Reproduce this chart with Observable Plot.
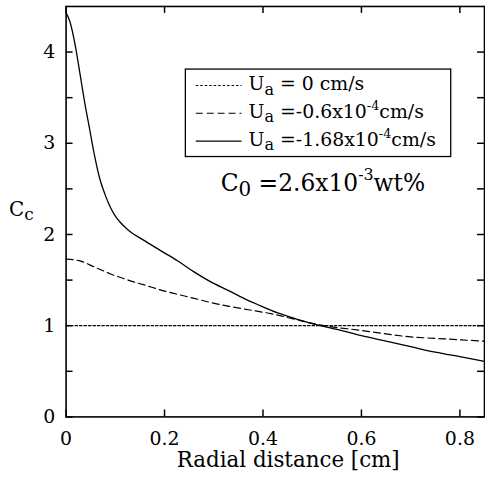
<!DOCTYPE html>
<html>
<head>
<meta charset="utf-8">
<script src="https://cdn.jsdelivr.net/npm/d3@7"></script>
<script src="https://cdn.jsdelivr.net/npm/@observablehq/plot@0.6"></script>
<style>
  html, body { margin: 0; padding: 0; background: white; overflow: hidden; }
  #chart { position: relative; width: 485px; height: 486px; overflow: hidden; }
</style>
</head>
<body>
<div id="chart"></div>
<script>
// ---- data ----
const xDot = [0, 0.85];
const yDot = [1, 1];

const xDash = [0, 0.028, 0.059, 0.089, 0.126, 0.163, 0.193, 0.226, 0.26, 0.297, 0.334, 0.37, 0.418, 0.465, 0.513, 0.6, 0.695, 0.77, 0.85];
const yDash = [1.73, 1.71, 1.64, 1.57, 1.50, 1.44, 1.39, 1.345, 1.30, 1.25, 1.21, 1.175, 1.13, 1.07, 1.01, 0.948, 0.88, 0.855, 0.83];

const xSolid = [0, 0.008, 0.018, 0.028, 0.038, 0.048, 0.058, 0.069, 0.079, 0.089, 0.099, 0.109, 0.126, 0.16, 0.193, 0.227, 0.26, 0.294, 0.328, 0.361, 0.39, 0.43, 0.47, 0.51, 0.55, 0.6, 0.65, 0.7, 0.75, 0.8, 0.85];
const ySolid = [4.43, 4.33, 4.09, 3.77, 3.44, 3.15, 2.86, 2.60, 2.44, 2.31, 2.21, 2.14, 2.05, 1.93, 1.82, 1.71, 1.59, 1.48, 1.39, 1.30, 1.23, 1.14, 1.07, 1.01, 0.96, 0.89, 0.83, 0.77, 0.71, 0.66, 0.61];

// legend labels: [text, kind] parts (kind: "" | "sub" | "sup")
const seriesLabels = [
  [["U", ""], ["a", "sub"], [" = 0 cm/s", ""]],
  [["U", ""], ["a", "sub"], [" =-0.6x10", ""], ["-4", "sup"], ["cm/s", ""]],
  [["U", ""], ["a", "sub"], [" =-1.68x10", ""], ["-4", "sup"], ["cm/s", ""]]
];
const noteLabel = [["C", ""], ["0", "sub"], [" =2.6x10", ""], ["-3", "sup"], ["wt%", ""]];
const yTitle = [["C", ""], ["c", "sub"]];
const xTitle = "Radial distance [cm]";

const xTicks = [0, 0.2, 0.4, 0.6, 0.8];
const yTicks = [0, 0.5, 1, 1.5, 2, 2.5, 3, 3.5, 4];

// ---- styles ----
const dashes = ["2.5,2", "7,4", null];
const FONT = "DejaVu Serif";
const W = 488, H = 486, ML = 66, MR = 1, MT = 6, MB = 67, TICK = 7;
const plotW = W - ML - MR, plotH = H - MT - MB;

const toRows = (xs, ys) => xs.map((x, i) => ({x, y: ys[i]}));
const seriesRows = [toRows(xDot, yDot), toRows(xDash, yDash), toRows(xSolid, ySolid)];
const tickStyle = {stroke: "black", strokeWidth: 1.5};

const chart = Plot.plot({
  width: W,
  height: H,
  marginLeft: ML,
  marginRight: MR,
  marginTop: MT,
  marginBottom: MB,
  style: {fontFamily: FONT, fontSize: "19px", color: "black", background: "white"},
  x: {domain: [0, 0.85]},
  y: {domain: [0, 4.5]},
  marks: [
    Plot.axisX({anchor: "bottom", ticks: xTicks, tickSize: 0, tickPadding: 15,
      tickFormat: d => d === 0 ? "0" : d.toFixed(1), label: null}),
    Plot.axisY({anchor: "left", ticks: yTicks, tickSize: 0, tickPadding: 11,
      tickFormat: d => Number.isInteger(d) ? String(d) : "", label: null}),
    // inward ticks on all four sides
    Plot.tickX(xTicks, {x: d => d, ...tickStyle, insetTop: plotH - TICK}),
    Plot.tickX(xTicks, {x: d => d, ...tickStyle, insetBottom: plotH - TICK}),
    Plot.tickY(yTicks, {y: d => d, ...tickStyle, insetRight: plotW - TICK}),
    Plot.tickY(yTicks, {y: d => d, ...tickStyle, insetLeft: plotW - TICK}),
    ...seriesRows.map((rows, i) => Plot.line(rows, {
      x: "x", y: "y", stroke: "black",
      strokeWidth: i === 2 ? 1.3 : 1.2,
      strokeDasharray: dashes[i],
      curve: "monotone-x"
    })),
    Plot.frame({stroke: "black", strokeWidth: 1.6})
  ]
});
document.getElementById("chart").appendChild(chart);

// ---- annotations (legend, titles) ----
function rich(sel, parts, size) {
  let cur = 0;
  parts.forEach(([t, kind]) => {
    const target = kind === "sub" ? size * 0.22 : kind === "sup" ? -size * 0.45 : 0;
    const ts = sel.append("tspan").text(t).attr("dy", target - cur);
    cur = target;
    if (kind === "sub") ts.attr("font-size", size * 0.85);
    else if (kind === "sup") ts.attr("font-size", size * 0.68);
    else ts.attr("font-size", size);
  });
}

const svg = d3.select(chart);
const ann = svg.append("g").attr("font-family", FONT).attr("fill", "black").attr("text-anchor", "start");

// legend box
const lg = ann.append("g");
lg.append("rect").attr("x", 186.5).attr("y", 69.5).attr("width", 267).attr("height", 88)
  .attr("fill", "white").attr("stroke", "black").attr("stroke-width", 1.3);
seriesLabels.forEach((parts, i) => {
  const cy = 86 + i * 28;
  lg.append("line").attr("x1", 197).attr("x2", 243).attr("y1", cy).attr("y2", cy)
    .attr("stroke", "black").attr("stroke-width", i === 2 ? 1.3 : 1.1)
    .attr("stroke-dasharray", dashes[i]);
  const t = lg.append("text").attr("x", 250).attr("y", cy + 5).attr("font-size", 19);
  rich(t, parts, 19);
});

// note
const nt = ann.append("text").attr("x", 222).attr("y", 192).attr("font-size", 23.5);
rich(nt, noteLabel, 23.5);

// y title
const yt = ann.append("text").attr("x", 9).attr("y", 217).attr("font-size", 20);
rich(yt, yTitle, 20);

// x title
ann.append("text").attr("x", 290).attr("y", 470).attr("text-anchor", "middle")
  .attr("font-size", 21.5).text(xTitle);
</script>
</body>
</html>
